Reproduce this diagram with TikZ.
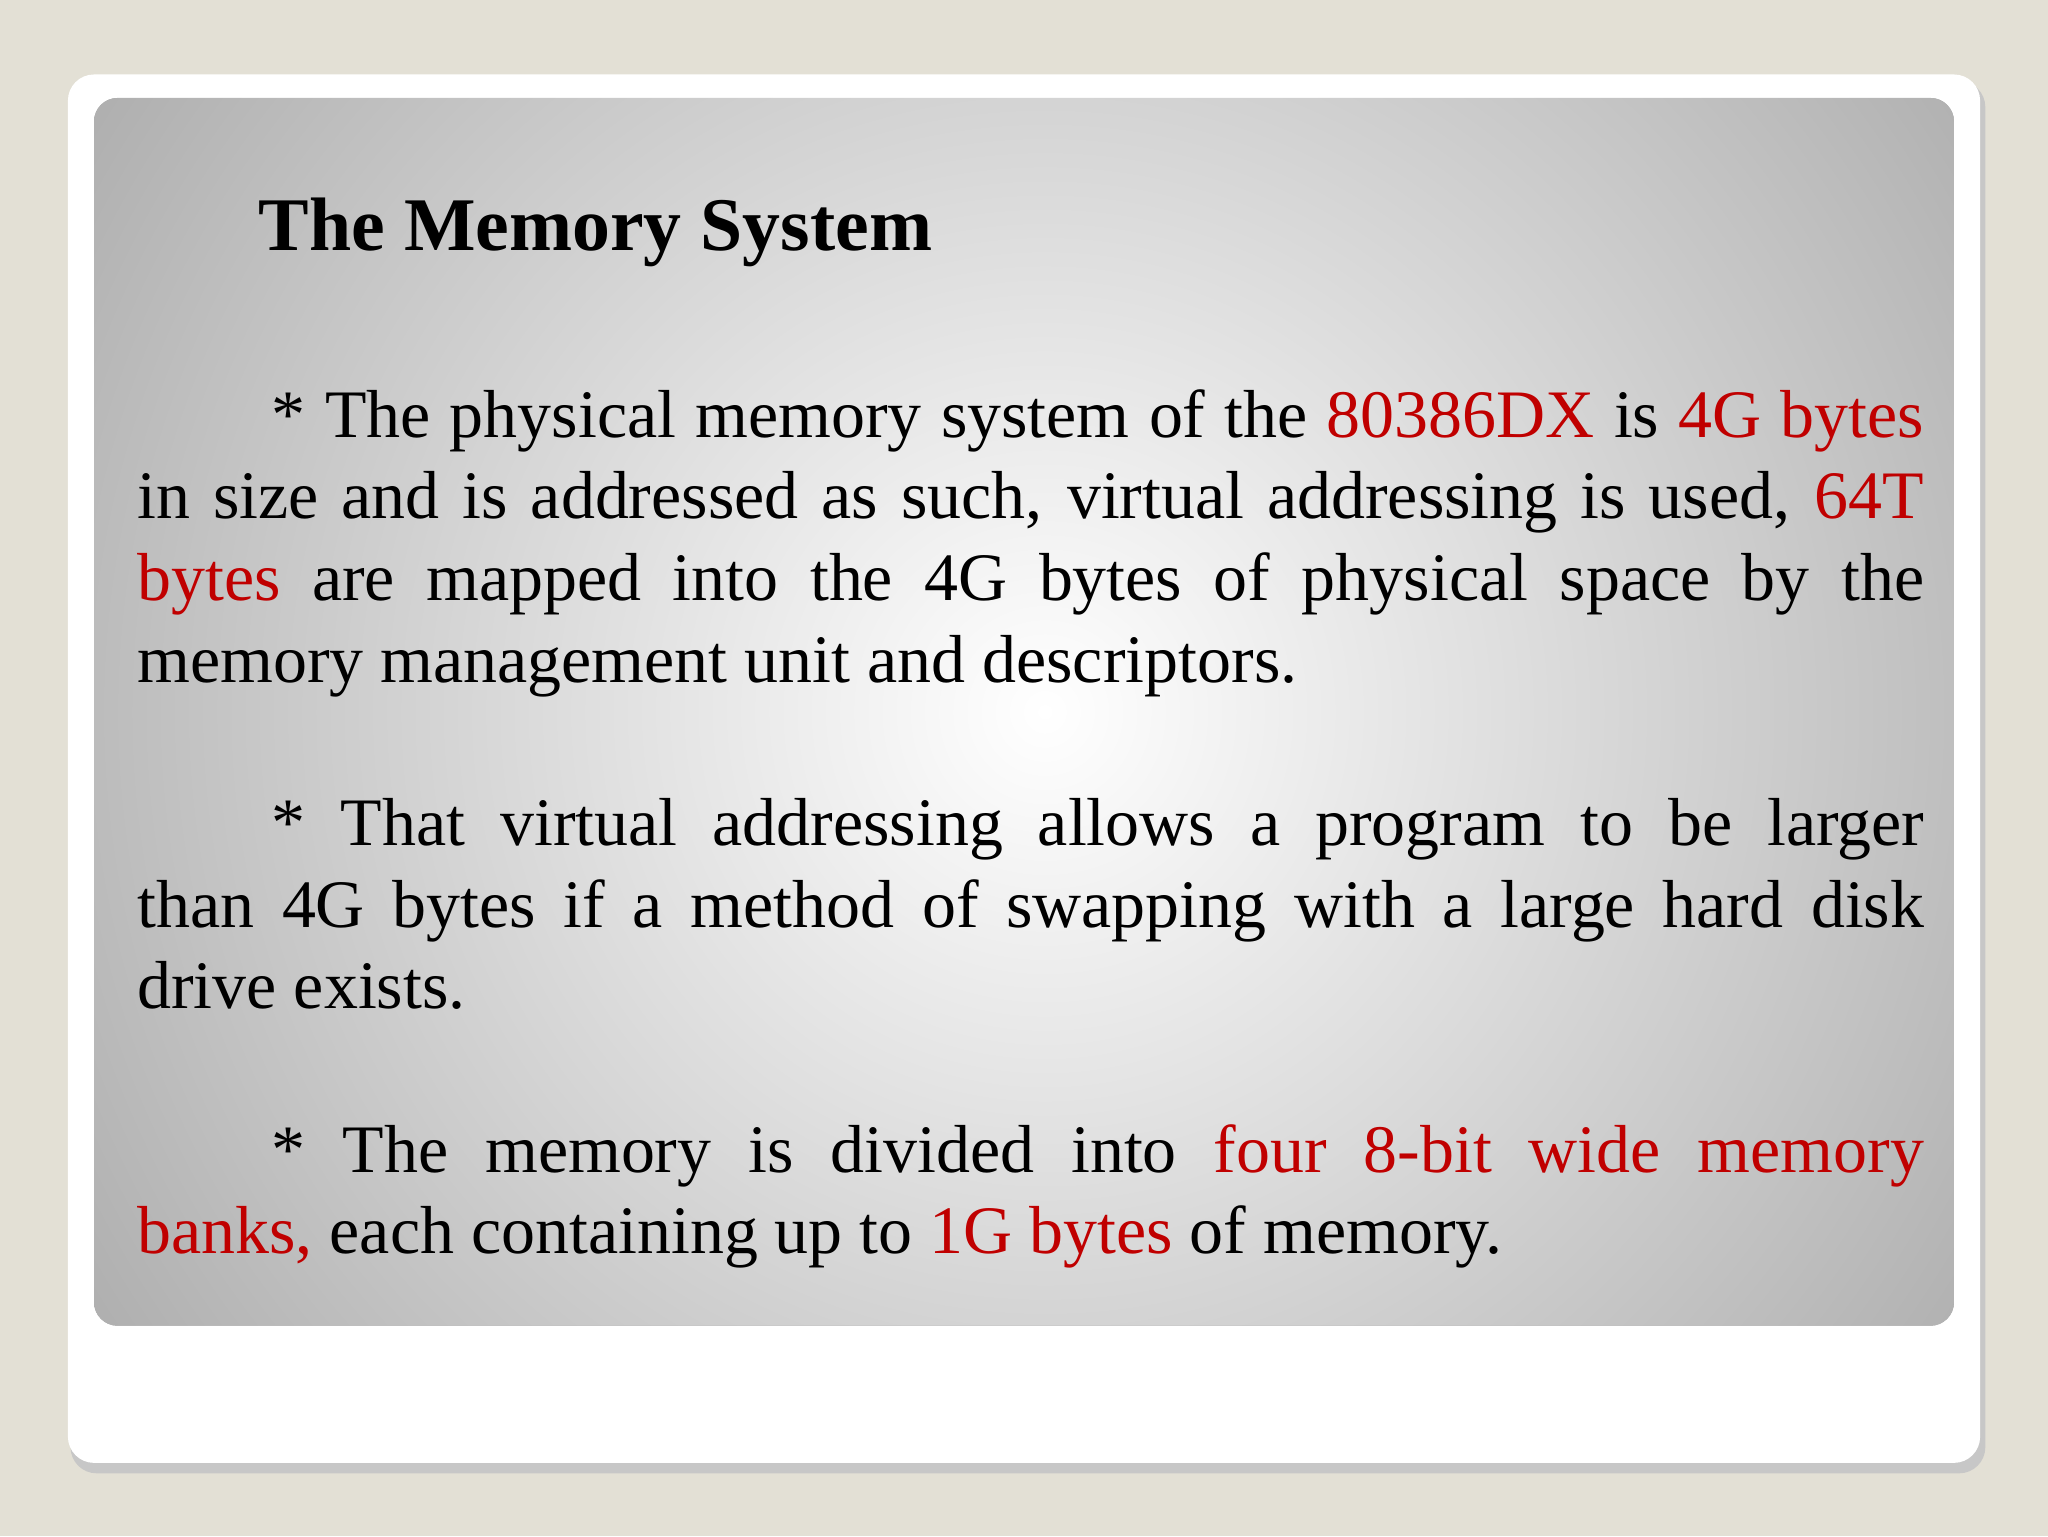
\documentclass[tikz,border=0pt]{standalone}
\usepackage{fontspec}
\setmainfont{Liberation Serif}
\definecolor{bgc}{HTML}{E3E0D5}
\definecolor{rd}{HTML}{C00000}
\begin{document}
\begin{tikzpicture}[x=1pt,y=-1pt]
\fill[bgc] (0,0) rectangle (1568,1176);
\useasboundingbox (0,0) rectangle (1568,1176);
\fill[black!22,rounded corners=20] (54,62) rectangle (1520,1128);
\fill[white,rounded corners=20] (52,57) rectangle (1516,1120);
\begin{scope}
\clip[rounded corners=18] (72,75) rectangle (1496,1015);
\fill[black!38] (72,75) rectangle (1496,1015);
\shade[inner color=white, outer color=black!38] (800,545) circle[radius=1050pt];
\end{scope}
\node[anchor=base west,inner sep=0,font=\fontsize{58}{70}\selectfont\bfseries] (title) at (198,192) {The Memory System};
\node[anchor=north west,inner sep=0] (body) at (105,298) {\parbox{1368pt}{\fontsize{52}{62.5}\selectfont
\hspace*{103pt}* The physical memory system of the \textcolor{rd}{80386DX} is \textcolor{rd}{4G bytes}\linebreak
in size and is addressed as such, virtual addressing is used, \textcolor{rd}{64T}\linebreak
\textcolor{rd}{bytes} are mapped into the 4G bytes of physical space by the\linebreak
memory management unit and descriptors.\par
\vspace{62.5pt}
\hspace*{103pt}* That virtual addressing allows a program to be larger\linebreak
than 4G bytes if a method of swapping with a large hard disk\linebreak
drive exists.\par
\vspace{62.5pt}
\hspace*{103pt}* The memory is divided into \textcolor{rd}{four 8-bit wide memory}\linebreak
\textcolor{rd}{banks,} each containing up to \textcolor{rd}{1G bytes} of memory.\par}};
\end{tikzpicture}
\end{document}
